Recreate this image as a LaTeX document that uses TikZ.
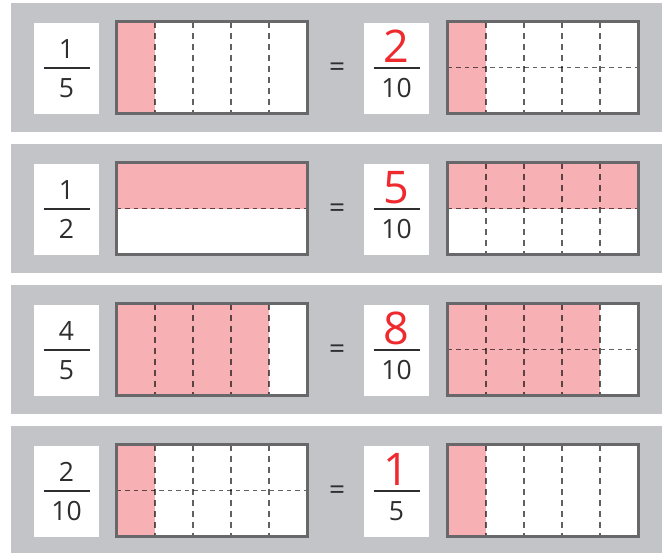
\documentclass[tikz,border=0pt]{standalone}
\usepackage{fontspec}
\setmainfont{Open Sans}
\usetikzlibrary{calc}
\definecolor{panelgray}{HTML}{C3C4C7}
\definecolor{shadepink}{HTML}{F7B0B4}
\definecolor{framegray}{HTML}{68686A}
\definecolor{inkgray}{HTML}{2E2E30}
\definecolor{numred}{HTML}{EE2A2F}

\begin{document}
\begin{tikzpicture}[x=1pt,y=-1pt]
  \tikzstyle{panel}=[fill=panelgray]
  \tikzstyle{fbox}=[fill=white,minimum width=65pt,minimum height=91pt,inner sep=0pt]
  \tikzstyle{bar}=[fill=white,minimum width=190pt,minimum height=91pt,inner sep=0pt]
  \tikzstyle{frame}=[draw=framegray,line width=2.8pt]
  \tikzstyle{shade}=[fill=shadepink]
  \tikzstyle{vdiv}=[black,opacity=0.62,line width=1.4pt,dash pattern=on 6pt off 5pt]
  \tikzstyle{hdiv}=[black,opacity=0.62,line width=1.4pt,dash pattern=on 4.5pt off 4pt]
  \tikzstyle{digit}=[anchor=base,inner sep=0pt,text=inkgray,font=\fontsize{26.5}{26.5}\selectfont]
  \tikzstyle{bignum}=[anchor=base,inner sep=0pt,text=numred,font=\fontsize{45}{45}\selectfont]
  \tikzstyle{eqsign}=[inner sep=0pt,text=inkgray,font=\fontsize{28}{28}\selectfont]
  \tikzstyle{fracline}=[draw=inkgray,line width=1.3pt]

  \fill[white] (0,0) rectangle (666,552);
  \useasboundingbox (0,0) rectangle (666,552);

  % 1/5 = 2/10
  \begin{scope}[yshift=-3pt]
    \fill[panel] (11,0) rectangle (662,129);
    \node[fbox] (fa1) at (66.5,65.5) {};
    \node[digit] (na1) at (66.5,55) {1};
    \draw[fracline] (43.5,65) -- (89.5,65);
    \node[digit] (da1) at (66.5,94) {5};
    \node[bar] (ba1) at (212,64.5) {};
    \fill[shade] (ba1.north west) rectangle +(38,91);
    \foreach \i in {1,...,4}
      \draw[vdiv] ($(ba1.north west)+(38*\i,0)$) -- +(0,91);
    \draw[frame] (ba1.north west) rectangle (ba1.south east);
    \node[eqsign] (eq1) at (337,66.5) {=};
    \node[fbox] (fb1) at (396.5,65.5) {};
    \node[bignum] (nb1) at (396.5,59) {2};
    \draw[fracline] (373.5,65) -- (419.5,65);
    \node[digit] (db1) at (396.5,94) {10};
    \node[bar] (bb1) at (543,64.5) {};
    \fill[shade] (bb1.north west) rectangle +(38,91);
    \foreach \i in {1,...,4}
      \draw[vdiv] ($(bb1.north west)+(38*\i,0)$) -- +(0,91);
    \draw[hdiv] (bb1.west) -- (bb1.east);
    \draw[frame] (bb1.north west) rectangle (bb1.south east);
  \end{scope}

  % 1/2 = 5/10
  \begin{scope}[yshift=-144pt]
    \fill[panel] (11,0) rectangle (662,129);
    \node[fbox] (fa2) at (66.5,65.5) {};
    \node[digit] (na2) at (66.5,55) {1};
    \draw[fracline] (43.5,65) -- (89.5,65);
    \node[digit] (da2) at (66.5,94) {2};
    \node[bar] (ba2) at (212,64.5) {};
    \fill[shade] (ba2.north west) rectangle (ba2.east);
    \draw[hdiv] (ba2.west) -- (ba2.east);
    \draw[frame] (ba2.north west) rectangle (ba2.south east);
    \node[eqsign] (eq2) at (337,66.5) {=};
    \node[fbox] (fb2) at (396.5,65.5) {};
    \node[bignum] (nb2) at (396.5,59) {5};
    \draw[fracline] (373.5,65) -- (419.5,65);
    \node[digit] (db2) at (396.5,94) {10};
    \node[bar] (bb2) at (543,64.5) {};
    \fill[shade] (bb2.north west) rectangle (bb2.east);
    \foreach \i in {1,...,4}
      \draw[vdiv] ($(bb2.north west)+(38*\i,0)$) -- +(0,91);
    \draw[hdiv] (bb2.west) -- (bb2.east);
    \draw[frame] (bb2.north west) rectangle (bb2.south east);
  \end{scope}

  % 4/5 = 8/10
  \begin{scope}[yshift=-285pt]
    \fill[panel] (11,0) rectangle (662,129);
    \node[fbox] (fa3) at (66.5,65.5) {};
    \node[digit] (na3) at (66.5,55) {4};
    \draw[fracline] (43.5,65) -- (89.5,65);
    \node[digit] (da3) at (66.5,94) {5};
    \node[bar] (ba3) at (212,64.5) {};
    \fill[shade] (ba3.north west) rectangle +(152,91);
    \foreach \i in {1,...,4}
      \draw[vdiv] ($(ba3.north west)+(38*\i,0)$) -- +(0,91);
    \draw[frame] (ba3.north west) rectangle (ba3.south east);
    \node[eqsign] (eq3) at (337,66.5) {=};
    \node[fbox] (fb3) at (396.5,65.5) {};
    \node[bignum] (nb3) at (396.5,59) {8};
    \draw[fracline] (373.5,65) -- (419.5,65);
    \node[digit] (db3) at (396.5,94) {10};
    \node[bar] (bb3) at (543,64.5) {};
    \fill[shade] (bb3.north west) rectangle +(152,91);
    \foreach \i in {1,...,4}
      \draw[vdiv] ($(bb3.north west)+(38*\i,0)$) -- +(0,91);
    \draw[hdiv] (bb3.west) -- (bb3.east);
    \draw[frame] (bb3.north west) rectangle (bb3.south east);
  \end{scope}

  % 2/10 = 1/5
  \begin{scope}[yshift=-426pt]
    \fill[panel] (11,0) rectangle (662,129);
    \node[fbox] (fa4) at (66.5,65.5) {};
    \node[digit] (na4) at (66.5,55) {2};
    \draw[fracline] (43.5,65) -- (89.5,65);
    \node[digit] (da4) at (66.5,94) {10};
    \node[bar] (ba4) at (212,64.5) {};
    \fill[shade] (ba4.north west) rectangle +(38,91);
    \foreach \i in {1,...,4}
      \draw[vdiv] ($(ba4.north west)+(38*\i,0)$) -- +(0,91);
    \draw[hdiv] (ba4.west) -- (ba4.east);
    \draw[frame] (ba4.north west) rectangle (ba4.south east);
    \node[eqsign] (eq4) at (337,66.5) {=};
    \node[fbox] (fb4) at (396.5,65.5) {};
    \node[bignum] (nb4) at (396.5,59) {1};
    \draw[fracline] (373.5,65) -- (419.5,65);
    \node[digit] (db4) at (396.5,94) {5};
    \node[bar] (bb4) at (543,64.5) {};
    \fill[shade] (bb4.north west) rectangle +(38,91);
    \foreach \i in {1,...,4}
      \draw[vdiv] ($(bb4.north west)+(38*\i,0)$) -- +(0,91);
    \draw[frame] (bb4.north west) rectangle (bb4.south east);
  \end{scope}
\end{tikzpicture}
\end{document}
